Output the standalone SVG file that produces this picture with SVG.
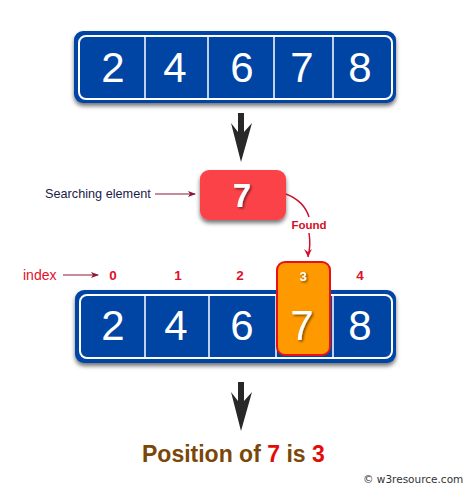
<svg xmlns="http://www.w3.org/2000/svg" width="463" height="488" viewBox="0 0 463 488">
<defs>
<filter id="sh" x="-10%" y="-20%" width="120%" height="150%"><feDropShadow dx="0" dy="3" stdDeviation="2" flood-color="#000" flood-opacity="0.55"/></filter>
<filter id="tsh" x="-30%" y="-30%" width="160%" height="160%"><feDropShadow dx="1.5" dy="1.5" stdDeviation="1" flood-color="#000" flood-opacity="0.5"/></filter>
<marker id="ah" markerWidth="8" markerHeight="6" refX="7" refY="3" orient="auto" markerUnits="userSpaceOnUse"><path d="M0,0 L8,3 L0,6 L2,3 Z" fill="#8b1a3a"/></marker>
<marker id="ahr" markerWidth="8" markerHeight="8" refX="4" refY="8" orient="0" markerUnits="userSpaceOnUse"><path d="M0,0 L4,8 L8,0 L4,3 Z" fill="#cc1030"/></marker>
</defs>
<style>
.bar{fill:#0644a4}
.inner{fill:none;stroke:#fff;stroke-width:2}
.div{stroke:#fff;stroke-width:1.5}
.dig{font-family:"Liberation Sans",Arial,sans-serif;font-size:42px;fill:#fff;text-anchor:middle}
.idx{font-family:"Liberation Sans",Arial,sans-serif;font-size:13.5px;font-weight:bold;fill:#e2102a;text-anchor:middle}
.lbl{font-family:"Liberation Sans",Arial,sans-serif}
.big{fill:#282828}
</style>
<g id="array-top">
<rect x="74" y="31" width="322" height="72" rx="9" class="bar" filter="url(#sh)"/>
<rect x="79" y="36" width="313" height="63" rx="7" class="inner"/>
<line x1="145" y1="37" x2="145" y2="98" class="div"/>
<line x1="208" y1="37" x2="208" y2="98" class="div"/>
<line x1="274" y1="37" x2="274" y2="98" class="div"/>
<line x1="333" y1="37" x2="333" y2="98" class="div"/>
<text x="113" y="82" class="dig">2</text>
<text x="175" y="82" class="dig">4</text>
<text x="242" y="82" class="dig">6</text>
<text x="302" y="82" class="dig">7</text>
<text x="360" y="82" class="dig">8</text>
</g>
<g id="search-element">
<rect x="200" y="170" width="86" height="50" rx="9" fill="#fc4249" filter="url(#sh)"/>
<text x="242" y="207" font-family="'Liberation Sans',Arial,sans-serif" font-size="33" font-weight="bold" fill="#fff" text-anchor="middle" filter="url(#tsh)">7</text>
</g>
<g id="searching-label">
<text x="45" y="198" class="lbl" font-size="12.7" fill="#1c1a4a">Searching element</text>
</g>
<g id="index-label">
<text x="23" y="279.5" class="lbl" font-size="14" fill="#e2102a">index</text>
</g>
<g id="found-label">
<text x="309" y="229" font-family="'Liberation Sans',Arial,sans-serif" font-size="11.5" font-weight="bold" fill="#d0102a" text-anchor="middle">Found</text>
</g>
<g id="indices">
<text x="113" y="280" class="idx">0</text>
<text x="178" y="280" class="idx">1</text>
<text x="240" y="280" class="idx">2</text>
<text x="360" y="280" class="idx">4</text>
</g>
<g id="array-bottom">
<rect x="75" y="290" width="321" height="73" rx="9" class="bar" filter="url(#sh)"/>
<rect x="80" y="295" width="312" height="63" rx="7" class="inner"/>
<line x1="145" y1="296" x2="145" y2="357" class="div"/>
<line x1="209" y1="296" x2="209" y2="357" class="div"/>
<line x1="276" y1="296" x2="276" y2="357" class="div"/>
<line x1="333" y1="296" x2="333" y2="357" class="div"/>
<text x="113" y="340" class="dig">2</text>
<text x="176" y="340" class="dig">4</text>
<text x="242" y="340" class="dig">6</text>
<text x="360" y="340" class="dig">8</text>
</g>
<g id="found-cell">
<rect x="277" y="262" width="53" height="93" rx="8" fill="#ff9900" stroke="#e8101a" stroke-width="2"/>
<text x="303" y="281" font-family="'Liberation Sans',Arial,sans-serif" font-size="13" font-weight="bold" fill="#fff" text-anchor="middle" filter="url(#tsh)">3</text>
<text x="302" y="340" class="dig" filter="url(#tsh)">7</text>
</g>
<g id="result">
<text x="142" y="462" font-family="'Liberation Sans',Arial,sans-serif" font-size="23" font-weight="bold" fill="#7a4708">Position of <tspan fill="#e40a0a">7</tspan> is <tspan fill="#e40a0a">3</tspan></text>
</g>
<g id="watermark">
<text x="363" y="483" font-family="'DejaVu Sans',sans-serif" font-size="10.5" fill="#333">© w3resource.com</text>
</g>
<g id="connectors">
<path d="M238,113 H244 V132 L252,123 L241,162 L231,123 L238,132 Z" class="big"/>
<path d="M238,382 H244 V401 L252,392 L241,431 L231,392 L238,401 Z" class="big"/>
<line x1="155" y1="194" x2="195" y2="194" stroke="#8b1a3a" stroke-width="1.2" marker-end="url(#ah)"/>
<line x1="63" y1="275" x2="98" y2="275" stroke="#8b1a3a" stroke-width="1.2" marker-end="url(#ah)"/>
<path d="M286,194 Q304,201 309,217" fill="none" stroke="#cc1030" stroke-width="1.5"/>
<path d="M309,233 Q311,245 308,257" fill="none" stroke="#cc1030" stroke-width="1.5" marker-end="url(#ahr)"/>
</g>
</svg>
